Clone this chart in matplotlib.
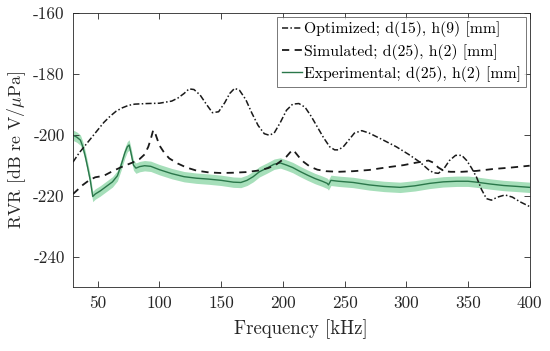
import matplotlib
matplotlib.use("Agg")
import matplotlib.pyplot as plt
import numpy as np

plt.rcParams['font.family'] = 'serif'
plt.rcParams['font.serif'] = ['cmr10', 'DejaVu Serif']
plt.rcParams['mathtext.fontset'] = 'cm'
plt.rcParams['axes.unicode_minus'] = False

# ---- data ----
opt_f = [30, 35, 40, 45, 50, 55, 60, 65, 70, 75, 80, 90, 100, 110, 115, 120, 124, 128, 133, 138,
         143, 148, 153, 157, 161, 165, 170, 175, 180, 185, 189, 193, 198, 203, 208, 213, 218, 223,
         228, 233, 238, 242, 245, 249, 253, 258, 264, 270, 280, 292, 302, 311, 318, 322, 326, 330,
         335, 340, 345, 349, 353, 357, 361, 365, 369, 374, 380, 386, 392, 400]
opt_rvr = [-209, -206, -203.5, -201, -198.5, -196, -194, -192.3, -191.2, -190.4, -190, -189.8, -189.7,
           -189, -188, -186.5, -185, -185.2, -187, -190, -192.8, -192.5, -189.5, -186.5, -184.8,
           -185.5, -188.5, -193, -197, -199.7, -200.2, -199.5, -196, -192, -190, -189.8, -191, -194,
           -197.5, -201, -204, -205, -205, -204, -202, -199.5, -198.7, -199.5, -201.5, -204, -206.5,
           -209, -211.5, -212.5, -212.7, -211.5, -208.5, -206.8, -206.8, -208.5, -211, -214, -218,
           -221, -221.5, -220.5, -219.8, -220.5, -222, -223.6]

sim_f = [30, 34, 38, 43, 48, 55, 62, 70, 78, 84, 88, 91, 93, 95, 97, 100, 104, 108, 115, 122, 130,
         140, 150, 160, 170, 180, 188, 194, 199, 203, 206, 208, 210, 213, 217, 222, 228, 235, 245,
         257, 270, 285, 298, 308, 314, 318, 322, 326, 331, 336, 345, 357, 370, 385, 400]
sim_rvr = [-219.5, -218, -216.5, -215, -214, -213.5, -212, -210.5, -209.2, -208, -206.5, -204,
           -201.5, -198.5, -200, -203.5, -206, -207.8, -209.5, -210.8, -211.8, -212.4, -212.6,
           -212.5, -212.3, -211.8, -211, -210, -208.5, -207.2, -205.8, -205, -205.8, -207.3, -209,
           -210.5, -211.5, -212, -212.2, -212, -211.6, -210.7, -210, -209.2, -208.8, -208.5, -209.2,
           -210.8, -212, -212.2, -212.2, -211.9, -211.3, -210.8, -210.2]

exp_f = [30, 33, 36, 38, 40, 42, 44, 46, 48, 52, 57, 62, 66, 69, 72, 74, 75.5, 77, 79, 81, 84, 88,
         93, 100, 110, 120, 130, 140, 150, 160, 166, 171, 176, 181, 187, 193, 198, 203, 208, 214,
         220, 226, 232, 236, 237, 239, 245, 257, 270, 282, 295, 307, 319, 330, 341, 350, 357, 368,
         379, 390, 400]
exp_rvr = [-200.2, -200.8, -201.8, -204, -207.2, -211, -215, -220.3, -219.5, -218.5, -217, -215.5,
           -213.5, -210, -206, -204, -203.4, -206, -210, -211, -210.5, -210.2, -210.4, -211.5,
           -212.8, -213.8, -214.3, -214.6, -215, -215.6, -215.7, -215, -213.8, -212.2, -211, -209.7,
           -209.3, -210, -210.8, -212.1, -213.3, -214.4, -215.3, -216, -216.5, -215, -215.3, -215.7,
           -216.5, -217, -217.3, -216.8, -216, -215.5, -215.3, -215.3, -215.6, -216.2, -216.7, -217,
           -217.3]
exp_unc = 1.7

labels = ['Optimized; d(15), h(9) [mm]',
          'Simulated; d(25), h(2) [mm]',
          'Experimental; d(25), h(2) [mm]']
xticks = [50, 100, 150, 200, 250, 300, 350, 400]
yticks = [-240, -220, -200, -180, -160]
ytick_labels = ['-240', '-220', '-200', '-180', '-160']

# ---- plot ----
fig = plt.figure(figsize=(5.5, 3.51), dpi=100)
ax = fig.add_axes([0.1327, 0.1823, 0.8303, 0.7815])

ef = np.array(exp_f)
er = np.array(exp_rvr)
ax.fill_between(ef, er - exp_unc, er + exp_unc, color='#a6dfba', lw=0, zorder=1)
l1, = ax.plot(opt_f, opt_rvr, color='#1a1a1a', lw=1.1, ls=(0, (4, 1.5, 1, 1.5)), zorder=3)
l2, = ax.plot(sim_f, sim_rvr, color='#1a1a1a', lw=1.3, ls=(0, (4, 3)), zorder=3)
l3, = ax.plot(exp_f, exp_rvr, color='#2a774a', lw=1.0, zorder=2)

ax.set_xlim(30, 400)
ax.set_ylim(-250, -160)
ax.set_xticks(xticks)
ax.set_xticklabels([str(t) for t in xticks])
ax.set_yticks(yticks)
ax.set_yticklabels(ytick_labels)
ax.tick_params(direction='in', top=True, right=True, labelsize=12.3, colors='#262626',
               length=4, width=0.6, pad=6)
for sp in ax.spines.values():
    sp.set_color('#262626')
    sp.set_linewidth(0.6)

ax.set_xlabel('Frequency [kHz]', fontsize=13.5, color='#262626', labelpad=6)
ax.set_ylabel(r'RVR [dB re V/$\mu$Pa]', fontsize=12.8, color='#262626', labelpad=4)

leg = ax.legend([l1, l2, l3], labels, loc='upper right', fontsize=11.3, frameon=True,
                fancybox=False, edgecolor='#555555', handlelength=1.3, handletextpad=0.1,
                borderpad=0.3, labelspacing=0.4, borderaxespad=0.25)
leg.get_frame().set_linewidth(0.7)

fig.savefig('out.png', dpi=100)
